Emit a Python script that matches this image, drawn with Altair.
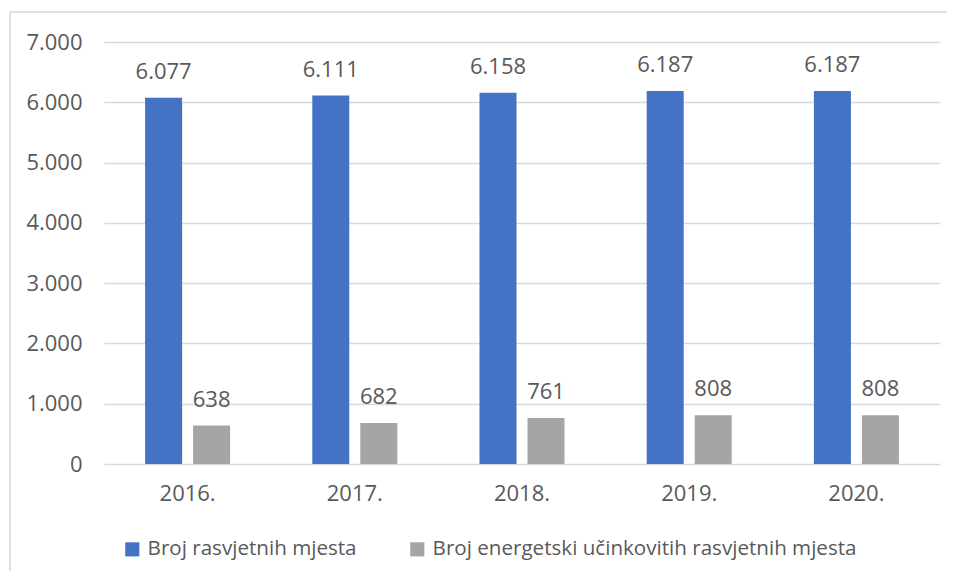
import altair as alt
import pandas as pd

years = ["2016.", "2017.", "2018.", "2019.", "2020."]
series_names = ["Broj rasvjetnih mjesta", "Broj energetski učinkovitih rasvjetnih mjesta"]
total_points = [6077, 6111, 6158, 6187, 6187]
efficient_points = [638, 682, 761, 808, 808]
colors = ["#4472C4", "#A5A5A5"]

rows = []
for i, y in enumerate(years):
    rows.append({"year": y, "series": series_names[0], "value": total_points[i]})
    rows.append({"year": y, "series": series_names[1], "value": efficient_points[i]})
df = pd.DataFrame(rows)

FONT = "Open Sans"
TXT = "#595959"

base = alt.Chart(df).transform_calculate(
    label="replace(format(datum.value, ','), ',', '.')"
)

x_enc = alt.X("year:N", sort=years, title=None,
              scale=alt.Scale(paddingInner=0, paddingOuter=0),
              axis=alt.Axis(labelAngle=0, ticks=False, domain=False, labelPadding=19,
                            labelFontSize=22, labelColor=TXT, labelFont=FONT))
xo_enc = alt.XOffset("series:N", sort=series_names,
                     scale=alt.Scale(paddingInner=0.229, paddingOuter=0.856))
y_enc = alt.Y("value:Q", title=None,
              scale=alt.Scale(domain=[0, 7000], nice=False),
              axis=alt.Axis(values=[0, 1000, 2000, 3000, 4000, 5000, 6000, 7000],
                            labelExpr="replace(format(datum.value, ','), ',', '.')",
                            ticks=False, domain=False, labelPadding=22,
                            labelFontSize=22, labelColor=TXT, labelFont=FONT,
                            gridColor="#D9D9D9", gridWidth=1.3))

bars = base.mark_bar().encode(
    x=x_enc, xOffset=xo_enc, y=y_enc,
    color=alt.Color("series:N", sort=series_names,
                    scale=alt.Scale(domain=series_names, range=colors),
                    legend=alt.Legend(title=None, orient="none", direction="horizontal",
                                      legendX=18, legendY=497,
                                      symbolType="square", symbolSize=200,
                                      symbolStrokeWidth=0,
                                      labelFontSize=20.6, labelColor=TXT, labelFont=FONT,
                                      labelOffset=5, columnPadding=50,
                                      labelLimit=600))
)

texts = base.mark_text(baseline="bottom", dy=-14, fontSize=22, color=TXT, font=FONT).encode(
    x=alt.X("year:N", sort=years), xOffset=alt.XOffset("series:N", sort=series_names),
    y="value:Q", text="label:N"
)

border = alt.Chart(pd.DataFrame({"a": [0]})).mark_rect(
    filled=False, stroke="#D9D9D9", strokeWidth=1.5
).encode(
    x=alt.value(-94), x2=alt.value(900), y=alt.value(-30), y2=alt.value(700)
)

chart = alt.layer(border, bars, texts).properties(
    width=836, height=422,
    autosize=alt.AutoSizeParams(type="none"),
    padding={"left": 96, "top": 34, "right": 7, "bottom": 107}
).configure_view(stroke=None)

chart.save("out.html", embed_options={"renderer": "svg", "actions": False})
